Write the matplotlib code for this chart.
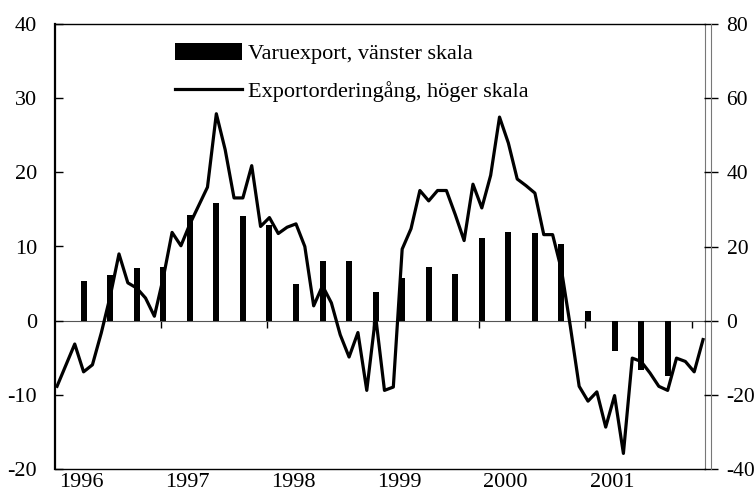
import matplotlib
matplotlib.use('Agg')
import matplotlib.pyplot as plt
import numpy as np

plt.rcParams['font.family'] = ['Liberation Serif', 'DejaVu Serif']
plt.rcParams['font.size'] = 16
plt.rcParams['axes.unicode_minus'] = False

# Exportorderingång, monthly, right scale (first point = month 0)
orders = [-17.7, -12.0, -6.3, -13.8, -11.9, -3.3, 6.5, 18.0, 10.2, 8.8,
          6.1, 1.2, 11.5, 23.8, 20.2, 26.0, 31.0, 36.0, 55.8, 46.1,
          33.1, 33.1, 41.8, 25.4, 27.8, 23.5, 25.2, 26.1, 20.0, 4.0,
          9.4, 4.8, -3.8, -9.8, -3.2, -18.8, 1.2, -18.8, -17.9, 19.3,
          24.8, 35.1, 32.3, 35.1, 35.1, 28.6, 21.6, 36.8, 30.4, 39.2,
          54.9, 47.9, 38.2, 36.4, 34.4, 23.2, 23.2, 13.7, -1.5, -17.7,
          -21.7, -19.2, -28.7, -20.2, -35.8, -10.1, -11.0, -14.1, -17.7, -18.8,
          -10.1, -11.0, -13.8, -5.1]

# Varuexport, quarterly, left scale
export = [5.3, 6.1, 7.1, 7.2, 14.2, 15.9, 14.1, 12.9, 4.9, 8.0,
          8.0, 3.8, 5.75, 7.2, 6.3, 11.1, 12.0, 11.8, 10.4, 1.25,
          -4.1, -6.7, -7.5]

years = ['1996', '1997', '1998', '1999', '2000', '2001']

order_months = np.arange(len(orders))
export_months = 3 * np.arange(1, len(export) + 1)
year_label_pos = 2.7 + 12 * np.arange(len(years))
year_tick_pos = 11.7 + 12 * np.arange(len(years))

fig = plt.figure(figsize=(7.56, 4.91), dpi=100)
ax = fig.add_axes([55 / 756, 1 - 469 / 491, 650 / 756, 445 / 491])

ax.bar(export_months, export, width=0.68, color='black',
       label='Varuexport, vänster skala', zorder=3)
ax.set_xlim(-0.23, 73.22)
ax.set_ylim(-20, 40)
ax.set_yticks(range(-20, 41, 10))
ax.tick_params(axis='y', direction='in', length=6, width=1, pad=13)
ax.set_xticks(year_label_pos)
ax.set_xticklabels(years)
ax.tick_params(axis='x', length=0, pad=3)
ax.spines['left'].set_linewidth(1.6)
ax.spines['top'].set_linewidth(1.0)
ax.spines['bottom'].set_linewidth(1.0)
ax.spines['right'].set_color('#777777')
ax.spines['right'].set_linewidth(0.8)

# zero line with the year ticks
zero = ax.secondary_xaxis(1 / 3)
zero.set_xticks(year_tick_pos)
zero.tick_params(direction='out', length=5, width=1, labelbottom=False)
zero.spines['bottom'].set_color('#555555')
zero.spines['bottom'].set_linewidth(0.8)

ax2 = ax.twinx()
ax2.plot(order_months, orders, color='black', lw=2.3,
         label='Exportorderingång, höger skala')
ax2.set_ylim(-40, 80)
ax2.set_yticks(range(-40, 81, 20))
ax2.tick_params(axis='y', direction='inout', length=10, width=1, pad=6.5,
                labelsize=15.5)
for s in ['left', 'top', 'bottom']:
    ax2.spines[s].set_visible(False)
ax2.spines['right'].set_position(('outward', 4))
ax2.spines['right'].set_color('#777777')
ax2.spines['right'].set_linewidth(0.8)

h1, l1 = ax.get_legend_handles_labels()
h2, l2 = ax2.get_legend_handles_labels()
ax2.legend(h1 + h2, l1 + l2, loc='upper left', bbox_to_anchor=(0.1846, 0.958),
           frameon=False, borderpad=0, borderaxespad=0, handlelength=3.0,
           handleheight=0.8, handletextpad=0.27, labelspacing=0.78, fontsize=16)

fig.savefig('out.png', dpi=100)
